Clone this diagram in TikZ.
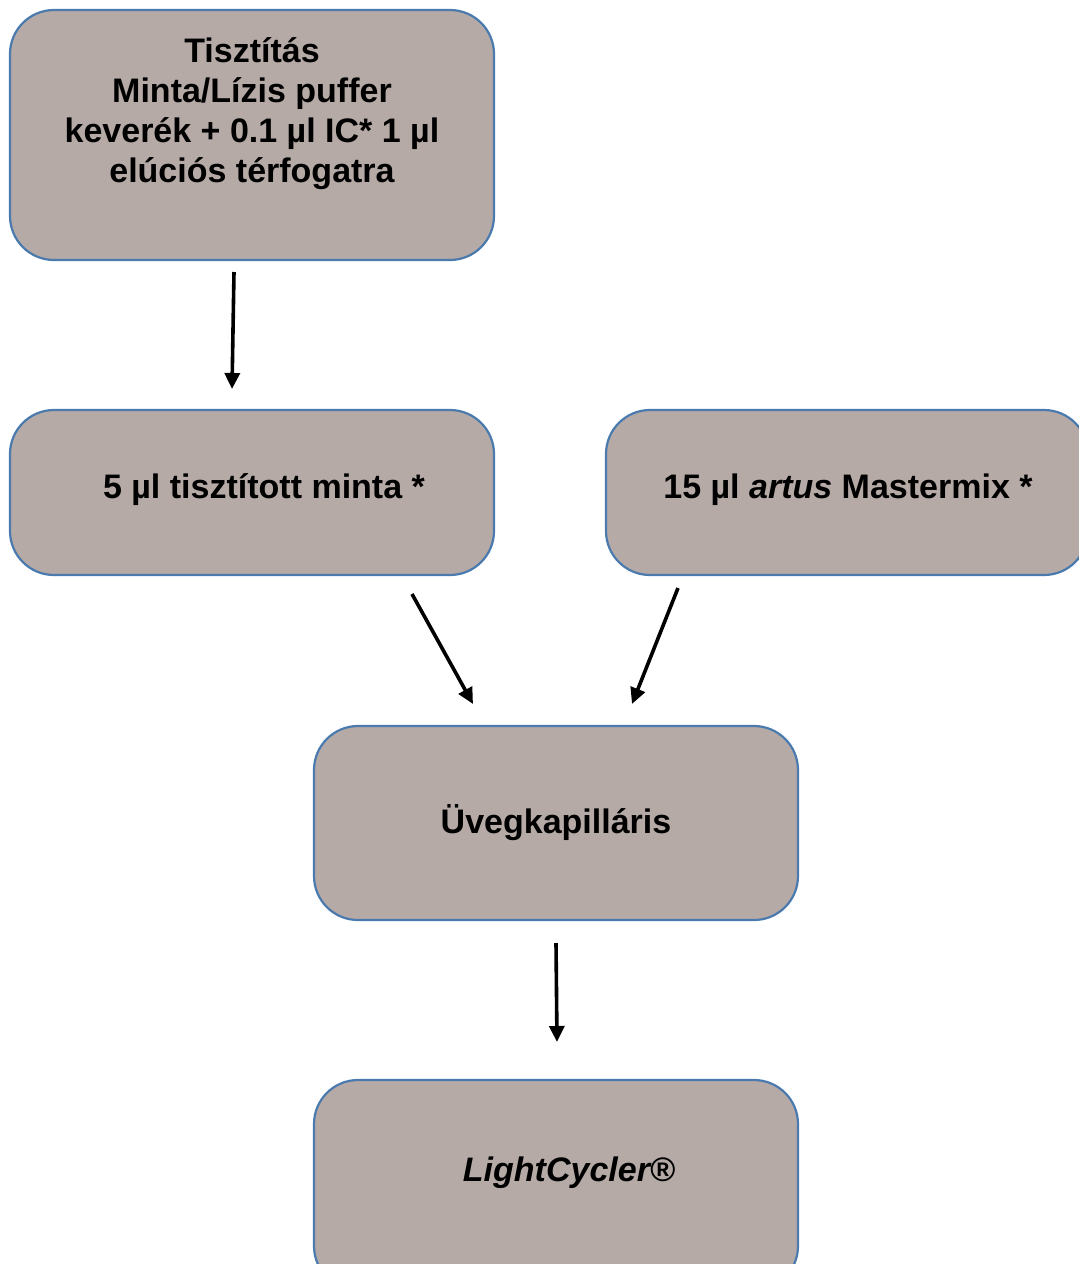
\documentclass[tikz,border=0pt]{standalone}
\usepackage{fontspec}
\setmainfont{Liberation Sans}
\usetikzlibrary{arrows.meta}
\definecolor{boxfill}{HTML}{B5AAA6}
\definecolor{boxline}{HTML}{4A7AAE}
\begin{document}
\begin{tikzpicture}[x=1pt,y=-1pt,
  flowbox/.style={draw=boxline, line width=2.2pt, fill=boxfill, rounded corners=44pt},
  lbl/.style={font=\fontsize{34}{40}\selectfont\bfseries, align=center, text=black, inner sep=0pt},
  arr/.style={line width=3.6pt, -{Triangle[length=16pt,width=15pt]}}]
\useasboundingbox (0,0) rectangle (1079,1264);
\clip (0,0) rectangle (1079,1264);
% boxes
\draw[flowbox] (10,10) rectangle (494,260);
\draw[flowbox] (10,410) rectangle (494,575);
\draw[flowbox] (606,410) rectangle (1088,575);
\draw[flowbox] (314,726) rectangle (798,920);
\draw[flowbox] (314,1080) rectangle (798,1290);
% labels
\node[lbl] (t1) at (252,114) {Tisztítás\\Minta/Lízis puffer\\keverék + 0.1 µl IC* 1 µl\\elúciós térfogatra};
\node[lbl] (t2) at (264,490) {5 µl tisztított minta *};
\node[lbl] (t3) at (848,490) {15 µl \textit{artus} Mastermix *};
\node[lbl] (t4) at (556,823) {Üvegkapilláris};
\node[lbl] (t5) at (569,1173) {\textit{LightCycler®}};
% arrow ends
\coordinate (a1s) at (234,272); \coordinate (a1e) at (232,389);
\coordinate (a2s) at (412,594); \coordinate (a2e) at (473,704);
\coordinate (a3s) at (678,588); \coordinate (a3e) at (632,704);
\coordinate (a4s) at (556,943); \coordinate (a4e) at (557,1042);
\draw[arr] (a1s) -- (a1e);
\draw[arr] (a2s) -- (a2e);
\draw[arr] (a3s) -- (a3e);
\draw[arr] (a4s) -- (a4e);
\end{tikzpicture}
\end{document}
